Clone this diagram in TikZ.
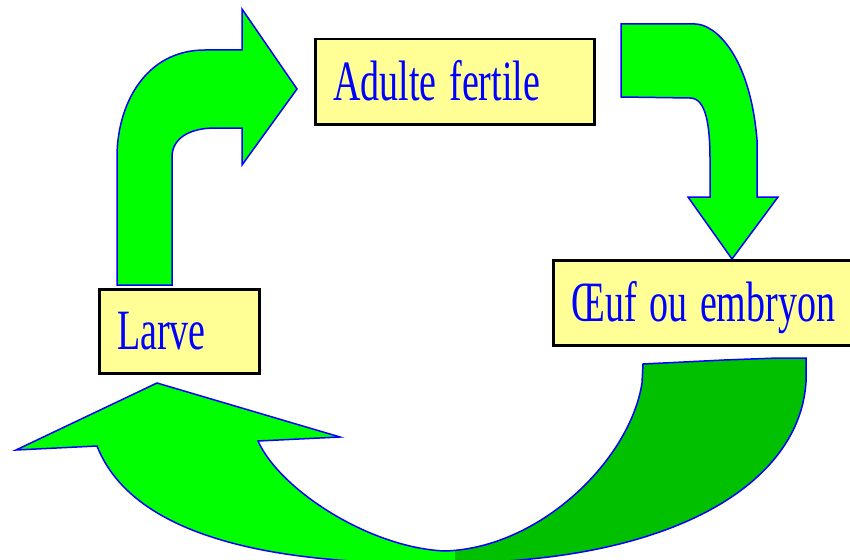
\documentclass[tikz,border=0pt]{standalone}
\usepackage{graphicx}
\usepackage{fontspec}
\setmainfont{Liberation Serif}

\definecolor{litegreen}{RGB}{0,255,0}
\definecolor{shadegreen}{RGB}{0,192,0}
\definecolor{edgeblue}{RGB}{0,0,255}
\definecolor{paleyellow}{RGB}{255,255,150}

\newcommand\tallword[1]{\scalebox{1}[1.5]{#1}}

\tikzset{
	box/.style={draw=black, line width=2.5pt, fill=paleyellow, anchor=north west,
		inner xsep=18pt, inner ysep=0pt, align=left, text height=37pt, text depth=0pt,
		font=\fontsize{38}{40}\selectfont, text=edgeblue},
	blockarrow/.style={fill=litegreen, draw=edgeblue, line width=1.5pt, line join=miter}
}

\begin{document}
\begin{tikzpicture}[x=1pt,y=-1pt]
	\useasboundingbox (0,0) rectangle (850,559);
	\fill[white] (0,0) rectangle (850,559);

	% Larve -> Adulte fertile
	\draw[blockarrow] (117,285) -- (117,157) .. controls (117,105) and (145,50) .. (205,50)
		-- (242,50) -- (242,9) -- (297,89) -- (242,165) -- (242,128) -- (215,128)
		.. controls (190,128) and (172,138) .. (172,157) -- (172,285) -- cycle;

	% Adulte fertile -> Oeuf
	\draw[blockarrow] (621,24) -- (695,24) .. controls (715,24) and (750,55) .. (757,140)
		-- (757,197) -- (778,197) -- (732,259) -- (688,197) -- (710,197) -- (710,160)
		.. controls (710,125) and (706,98) .. (690,98) -- (621,97) -- cycle;

	% Oeuf -> Larve
	\draw[blockarrow, path picture={\fill[shadegreen] (455,300) rectangle (900,600);}]
		(643,364) -- (724,360) -- (778,358) -- (806,358) -- (806,382)
		.. controls (800,480) and (680,562) .. (450,563)
		.. controls (330,565) and (140,555) .. (97,446)
		-- (16,450) -- (157,383) -- (340,437) -- (258,441)
		.. controls (280,490) and (370,548) .. (445,551)
		.. controls (540,548) and (630,460) .. (642,383) -- cycle;

	\node[box, minimum width=279pt, minimum height=85pt, text width=243pt] (adulte) at (314,38) {\tallword{Adulte fertile}};
	\node[box, minimum width=310pt, minimum height=85pt, text width=274pt] (oeuf) at (552,259) {\tallword{Œuf ou embryon}};
	\node[box, minimum width=160pt, minimum height=84pt, text width=124pt] (larve) at (98,288) {\tallword{Larve}};
\end{tikzpicture}
\end{document}
